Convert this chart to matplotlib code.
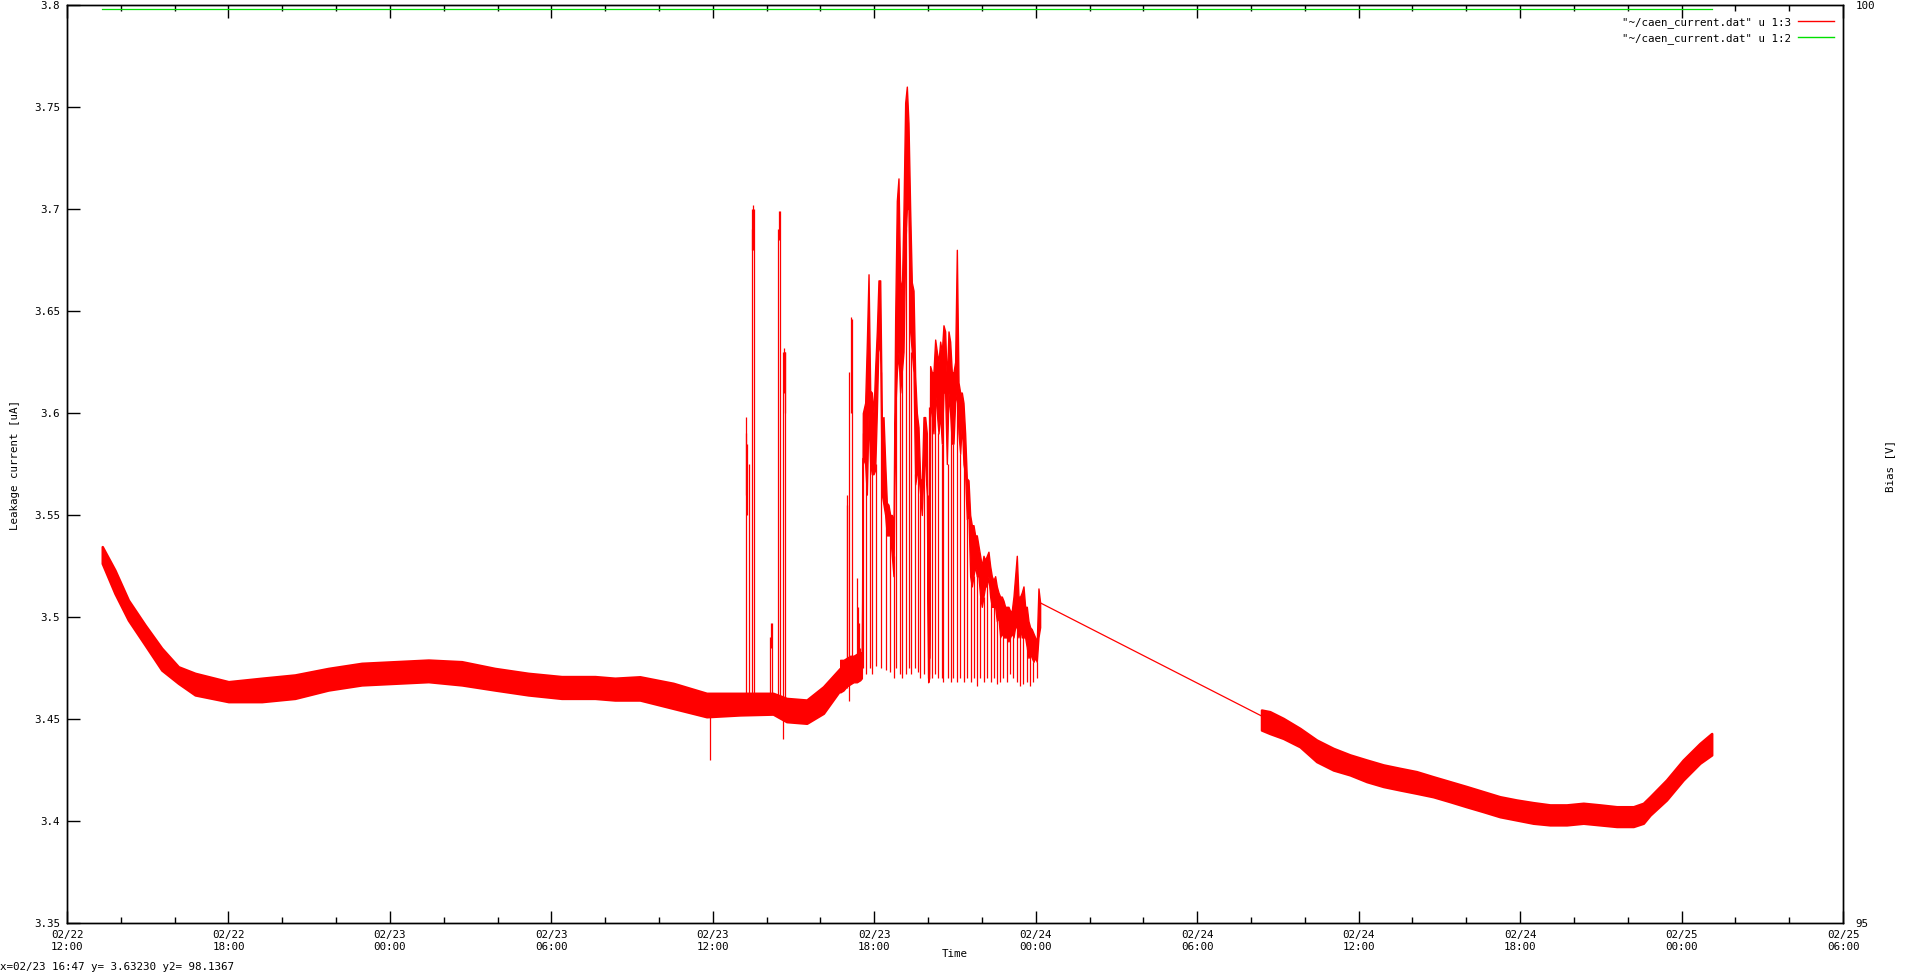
import numpy as np
import pandas as pd
import matplotlib
matplotlib.use('Agg')
import matplotlib.pyplot as plt
import matplotlib.dates as mdates
from matplotlib.lines import Line2D

plt.rcParams['font.family'] = ['DejaVu Sans Mono']
plt.rcParams['font.size'] = 7.8

day0 = pd.Timestamp('2013-02-22 00:00')
burst0 = pd.Timestamp('2013-02-23 16:44')

# quiet part before the bursts: hours after 02/22 00:00, noise band [uA]
seg1_h = [13.31, 13.78, 14.28, 14.90, 15.52, 16.14, 16.76, 18.00, 19.24, 20.47,
          21.71, 22.95, 24.19, 25.43, 26.67, 27.90, 29.14, 30.38, 31.62, 32.36,
          33.29, 34.53, 35.77, 37.01, 38.24, 38.74, 39.49, 40.11, 40.73]
seg1_lo = [3.5263, 3.5116, 3.4985, 3.4863, 3.4740, 3.4675, 3.4618, 3.4585, 3.4585, 3.4601,
           3.4642, 3.4667, 3.4675, 3.4683, 3.4667, 3.4642, 3.4618, 3.4601, 3.4601, 3.4593,
           3.4593, 3.4552, 3.4511, 3.4520, 3.4524, 3.4487, 3.4479, 3.4528, 3.4642]
seg1_hi = [3.5345, 3.5230, 3.5083, 3.4961, 3.4847, 3.4756, 3.4724, 3.4683, 3.4700, 3.4716,
           3.4748, 3.4773, 3.4781, 3.4789, 3.4781, 3.4748, 3.4724, 3.4708, 3.4708, 3.4700,
           3.4707, 3.4675, 3.4626, 3.4626, 3.4626, 3.4601, 3.4593, 3.4658, 3.4748]

# single excursions in the quiet part (hours, low, high)
jump_h = [35.89, 37.23, 37.25, 37.28, 37.35, 37.44, 37.47, 37.50, 37.54,
          38.13, 38.16, 38.20, 38.44, 38.47, 38.51, 38.60, 38.64, 38.68, 38.70]
jump_lo = [3.430, 3.455, 3.560, 3.550, 3.455, 3.455, 3.680, 3.680, 3.455,
           3.458, 3.485, 3.455, 3.455, 3.685, 3.455, 3.440, 3.610, 3.600, 3.450]
jump_hi = [3.455, 3.590, 3.598, 3.585, 3.575, 3.690, 3.700, 3.702, 3.700,
           3.490, 3.497, 3.497, 3.690, 3.699, 3.699, 3.630, 3.632, 3.630, 3.630]

# burst period: minutes after 02/23 16:44, level band [uA]
burst_m = [0.0, 7.4, 14.9, 22.3, 29.7, 37.2, 44.6, 48.3, 50.5, 55.7,
           59.4, 63.2, 66.9, 70.6, 74.3, 78.0, 81.7, 85.4, 89.2, 92.9,
           96.6, 100.3, 104.0, 107.7, 111.5, 115.2, 118.9, 122.6, 126.3, 130.0,
           133.7, 137.5, 141.2, 144.9, 148.6, 152.3, 156.0, 159.7, 163.5, 167.2,
           170.9, 174.6, 178.3, 182.0, 185.8, 189.5, 193.2, 196.2, 198.4, 200.6,
           204.3, 208.0, 211.8, 215.5, 219.2, 222.9, 226.6, 230.3, 234.0, 237.8,
           241.5, 245.2, 248.9, 252.6, 256.3, 260.1, 263.8, 267.5, 271.2, 274.9,
           278.6, 282.3, 286.1, 289.8, 293.5, 297.2, 300.9, 304.6, 308.3, 312.1,
           315.8, 319.5, 323.2, 326.9, 330.6, 334.4, 338.1, 341.8, 345.5, 349.2,
           352.9, 356.6, 360.4, 364.1, 367.8, 371.5, 375.2, 378.9, 382.6, 386.4,
           390.1, 393.8, 397.5, 401.2, 404.9, 408.7, 412.4, 416.1, 419.8, 423.5,
           427.2, 430.9, 434.7, 438.4, 442.1, 445.8]
burst_lo = [3.463, 3.464, 3.466, 3.467, 3.468, 3.468, 3.469, 3.470, 3.578, 3.575,
            3.560, 3.600, 3.575, 3.570, 3.570, 3.572, 3.600, 3.635, 3.630, 3.560,
            3.555, 3.550, 3.540, 3.540, 3.540, 3.530, 3.520, 3.600, 3.620, 3.630,
            3.610, 3.620, 3.630, 3.680, 3.700, 3.700, 3.640, 3.630, 3.620, 3.565,
            3.570, 3.570, 3.560, 3.550, 3.574, 3.575, 3.560, 3.468, 3.470, 3.603,
            3.600, 3.590, 3.610, 3.600, 3.590, 3.600, 3.585, 3.610, 3.610, 3.575,
            3.610, 3.600, 3.585, 3.585, 3.605, 3.610, 3.590, 3.580, 3.595, 3.575,
            3.570, 3.548, 3.550, 3.520, 3.515, 3.520, 3.525, 3.520, 3.520, 3.510,
            3.505, 3.510, 3.515, 3.515, 3.520, 3.510, 3.505, 3.505, 3.505, 3.498,
            3.500, 3.490, 3.492, 3.490, 3.490, 3.490, 3.488, 3.490, 3.492, 3.490,
            3.495, 3.495, 3.490, 3.495, 3.490, 3.490, 3.490, 3.485, 3.480, 3.482,
            3.480, 3.478, 3.480, 3.478, 3.490, 3.495]
burst_hi = [3.479, 3.479, 3.480, 3.481, 3.481, 3.482, 3.482, 3.483, 3.600, 3.605,
            3.634, 3.668, 3.611, 3.610, 3.600, 3.622, 3.640, 3.665, 3.665, 3.597,
            3.598, 3.576, 3.556, 3.555, 3.550, 3.550, 3.545, 3.646, 3.704, 3.715,
            3.665, 3.660, 3.700, 3.752, 3.760, 3.742, 3.700, 3.664, 3.660, 3.618,
            3.600, 3.593, 3.568, 3.566, 3.598, 3.598, 3.590, 3.480, 3.480, 3.623,
            3.620, 3.620, 3.636, 3.630, 3.625, 3.635, 3.630, 3.643, 3.640, 3.615,
            3.640, 3.635, 3.620, 3.620, 3.625, 3.680, 3.615, 3.610, 3.610, 3.605,
            3.590, 3.568, 3.567, 3.550, 3.545, 3.545, 3.540, 3.540, 3.535, 3.530,
            3.525, 3.530, 3.528, 3.530, 3.532, 3.525, 3.520, 3.518, 3.520, 3.515,
            3.512, 3.510, 3.510, 3.508, 3.505, 3.505, 3.505, 3.503, 3.503, 3.510,
            3.520, 3.530, 3.510, 3.510, 3.512, 3.515, 3.505, 3.505, 3.498, 3.495,
            3.494, 3.492, 3.490, 3.488, 3.514, 3.507]

# drops back to the baseline and short spikes during the bursts
drop_m = [14.1, 16.3, 20.1, 23.0, 25.3, 37.2, 39.4, 40.9, 43.1, 49.8,
          56.5, 65.4, 70.6, 79.5, 91.4, 101.8, 111.5, 118.9, 124.9, 132.3,
          138.2, 146.4, 153.8, 158.3, 167.2, 173.2, 178.3, 185.8, 194.7, 199.1,
          205.8, 211.8, 219.2, 226.6, 230.3, 239.3, 246.7, 252.6, 261.5, 267.5,
          276.4, 283.8, 291.3, 298.7, 304.6, 312.1, 321.0, 326.9, 335.8, 343.3,
          349.2, 356.6, 364.1, 371.5, 378.9, 386.4, 393.8, 401.2, 408.7, 416.1,
          423.5, 430.9, 438.4]
drop_lo = [3.465, 3.470, 3.459, 3.600, 3.470, 3.470, 3.470, 3.470, 3.470, 3.475,
           3.472, 3.475, 3.472, 3.476, 3.475, 3.474, 3.473, 3.470, 3.475, 3.472,
           3.470, 3.472, 3.475, 3.472, 3.475, 3.473, 3.470, 3.472, 3.470, 3.472,
           3.470, 3.472, 3.470, 3.470, 3.468, 3.470, 3.468, 3.470, 3.468, 3.470,
           3.468, 3.470, 3.468, 3.470, 3.466, 3.470, 3.468, 3.470, 3.468, 3.470,
           3.467, 3.468, 3.470, 3.468, 3.472, 3.470, 3.468, 3.466, 3.467, 3.468,
           3.466, 3.468, 3.470]
drop_hi = [3.560, 3.555, 3.620, 3.647, 3.646, 3.519, 3.505, 3.497, 3.485, 3.590,
           3.575, 3.600, 3.575, 3.575, 3.620, 3.550, 3.545, 3.530, 3.620, 3.620,
           3.620, 3.690, 3.700, 3.630, 3.570, 3.570, 3.560, 3.575, 3.560, 3.603,
           3.600, 3.610, 3.590, 3.585, 3.610, 3.575, 3.600, 3.585, 3.610, 3.580,
           3.575, 3.548, 3.520, 3.520, 3.520, 3.510, 3.510, 3.515, 3.510, 3.505,
           3.498, 3.490, 3.490, 3.490, 3.490, 3.490, 3.495, 3.495, 3.490, 3.485,
           3.482, 3.478, 3.478]

# no data between these two samples (hours, uA)
gap_h = [48.16, 56.39]
gap_v = [3.507, 3.4515]

# quiet part after the gap
seg2_h = [56.39, 56.70, 57.20, 57.82, 58.44, 59.06, 59.68, 60.30, 60.92, 61.54,
          62.15, 62.77, 63.39, 64.01, 64.63, 65.25, 65.87, 66.49, 67.11, 67.73,
          68.35, 68.97, 69.59, 70.21, 70.58, 70.83, 71.44, 72.06, 72.68, 73.12]
seg2_lo = [3.4446, 3.4429, 3.4405, 3.4364, 3.4291, 3.4250, 3.4226, 3.4193, 3.4169, 3.4152,
           3.4136, 3.4119, 3.4095, 3.4070, 3.4046, 3.4021, 3.4005, 3.3989, 3.3981, 3.3981,
           3.3989, 3.3981, 3.3973, 3.3973, 3.3989, 3.4029, 3.4103, 3.4201, 3.4283, 3.4324]
seg2_hi = [3.4544, 3.4536, 3.4503, 3.4454, 3.4397, 3.4356, 3.4324, 3.4299, 3.4275, 3.4258,
           3.4242, 3.4217, 3.4193, 3.4169, 3.4144, 3.4119, 3.4103, 3.4090, 3.4079, 3.4079,
           3.4087, 3.4079, 3.4070, 3.4070, 3.4087, 3.4119, 3.4201, 3.4299, 3.4380, 3.4429]

# bias voltage
bias_h = [13.31, 73.12]
bias_v = [99.977, 99.977]

ytick_vals = [3.35, 3.4, 3.45, 3.5, 3.55, 3.6, 3.65, 3.7, 3.75, 3.8]
ytick_labels = ['3.35', '3.4', '3.45', '3.5', '3.55', '3.6', '3.65', '3.7', '3.75', '3.8']
legend_labels = ['"~/caen_current.dat" u 1:3', '"~/caen_current.dat" u 1:2']


def from_day0(h):
    return (day0 + pd.to_timedelta(np.asarray(h), unit='h')).to_numpy()


def from_burst0(m):
    return (burst0 + pd.to_timedelta(np.asarray(m), unit='m')).to_numpy()


red = '#ff0000'
green = '#00e000'

fig = plt.figure(figsize=(19.2, 9.77), dpi=100)
ax = fig.add_axes([67 / 1920, 1 - 923 / 977, 1776 / 1920, 918 / 977])

# noisy band: thicker edge stands in for the fuzzy fringe of the samples
ax.fill_between(from_day0(seg1_h), seg1_lo, seg1_hi, color=red, lw=1.8)
ax.vlines(from_day0(jump_h), jump_lo, jump_hi, color=red, lw=0.9)
ax.fill_between(from_burst0(burst_m), burst_lo, burst_hi, color=red, lw=1.0)
ax.vlines(from_burst0(drop_m), drop_lo, drop_hi, color=red, lw=0.9)
ax.plot(from_day0(gap_h), gap_v, color=red, lw=0.9)
ax.fill_between(from_day0(seg2_h), seg2_lo, seg2_hi, color=red, lw=1.8)

ax.set_xlim(day0 + pd.Timedelta(hours=12), day0 + pd.Timedelta(hours=78))
ax.set_ylim(3.35, 3.8)
ax.set_yticks(ytick_vals)
ax.set_yticklabels(ytick_labels)
ax.xaxis.set_major_locator(mdates.HourLocator(byhour=[0, 6, 12, 18]))
ax.xaxis.set_minor_locator(mdates.HourLocator(byhour=range(0, 24, 2)))
ax.xaxis.set_major_formatter(mdates.DateFormatter('%m/%d\n%H:%M'))
for lab in ax.get_xticklabels():
    lab.set_linespacing(1.25)
ax.tick_params(which='both', direction='in', top=True, right=True, width=1.0, labelsize=7.8)
ax.tick_params(which='major', length=9, pad=5)
ax.tick_params(which='minor', length=4.5)
ax.tick_params(axis='y', which='minor', length=0)
for sp in ax.spines.values():
    sp.set_linewidth(1.0)

ax2 = ax.twinx()
ax2.plot(from_day0(bias_h), bias_v, color=green, lw=0.9)
ax2.set_ylim(95, 100)
ax2.set_yticks([95, 100])
ax2.set_yticklabels(['95', '100'])
ax2.tick_params(axis='y', length=0, pad=9, labelsize=7.8)
for sp in ax2.spines.values():
    sp.set_linewidth(1.0)

handles = [Line2D([], [], color=red, lw=1.0), Line2D([], [], color=green, lw=1.0)]
ax2.legend(handles, legend_labels, loc='upper right', bbox_to_anchor=(1834 / 1920, 1 - 17 / 977),
           bbox_transform=fig.transFigure, frameon=False, markerfirst=False,
           handlelength=3.3, handletextpad=0.7, labelspacing=0.45, borderpad=0, borderaxespad=0,
           fontsize=7.8)

fig.text(955 / 1920, 1 - 954 / 977, 'Time', ha='center', va='center')
fig.text(15 / 1920, 1 - 465 / 977, 'Leakage current [uA]', rotation=90, ha='center', va='center')
fig.text(1890 / 1920, 1 - 466 / 977, 'Bias [V]', rotation=90, ha='center', va='center')
fig.text(0.0, 1 - 967 / 977, 'x=02/23 16:47 y= 3.63230 y2= 98.1367', ha='left', va='center')

fig.savefig('out.png', dpi=100, facecolor='white')
